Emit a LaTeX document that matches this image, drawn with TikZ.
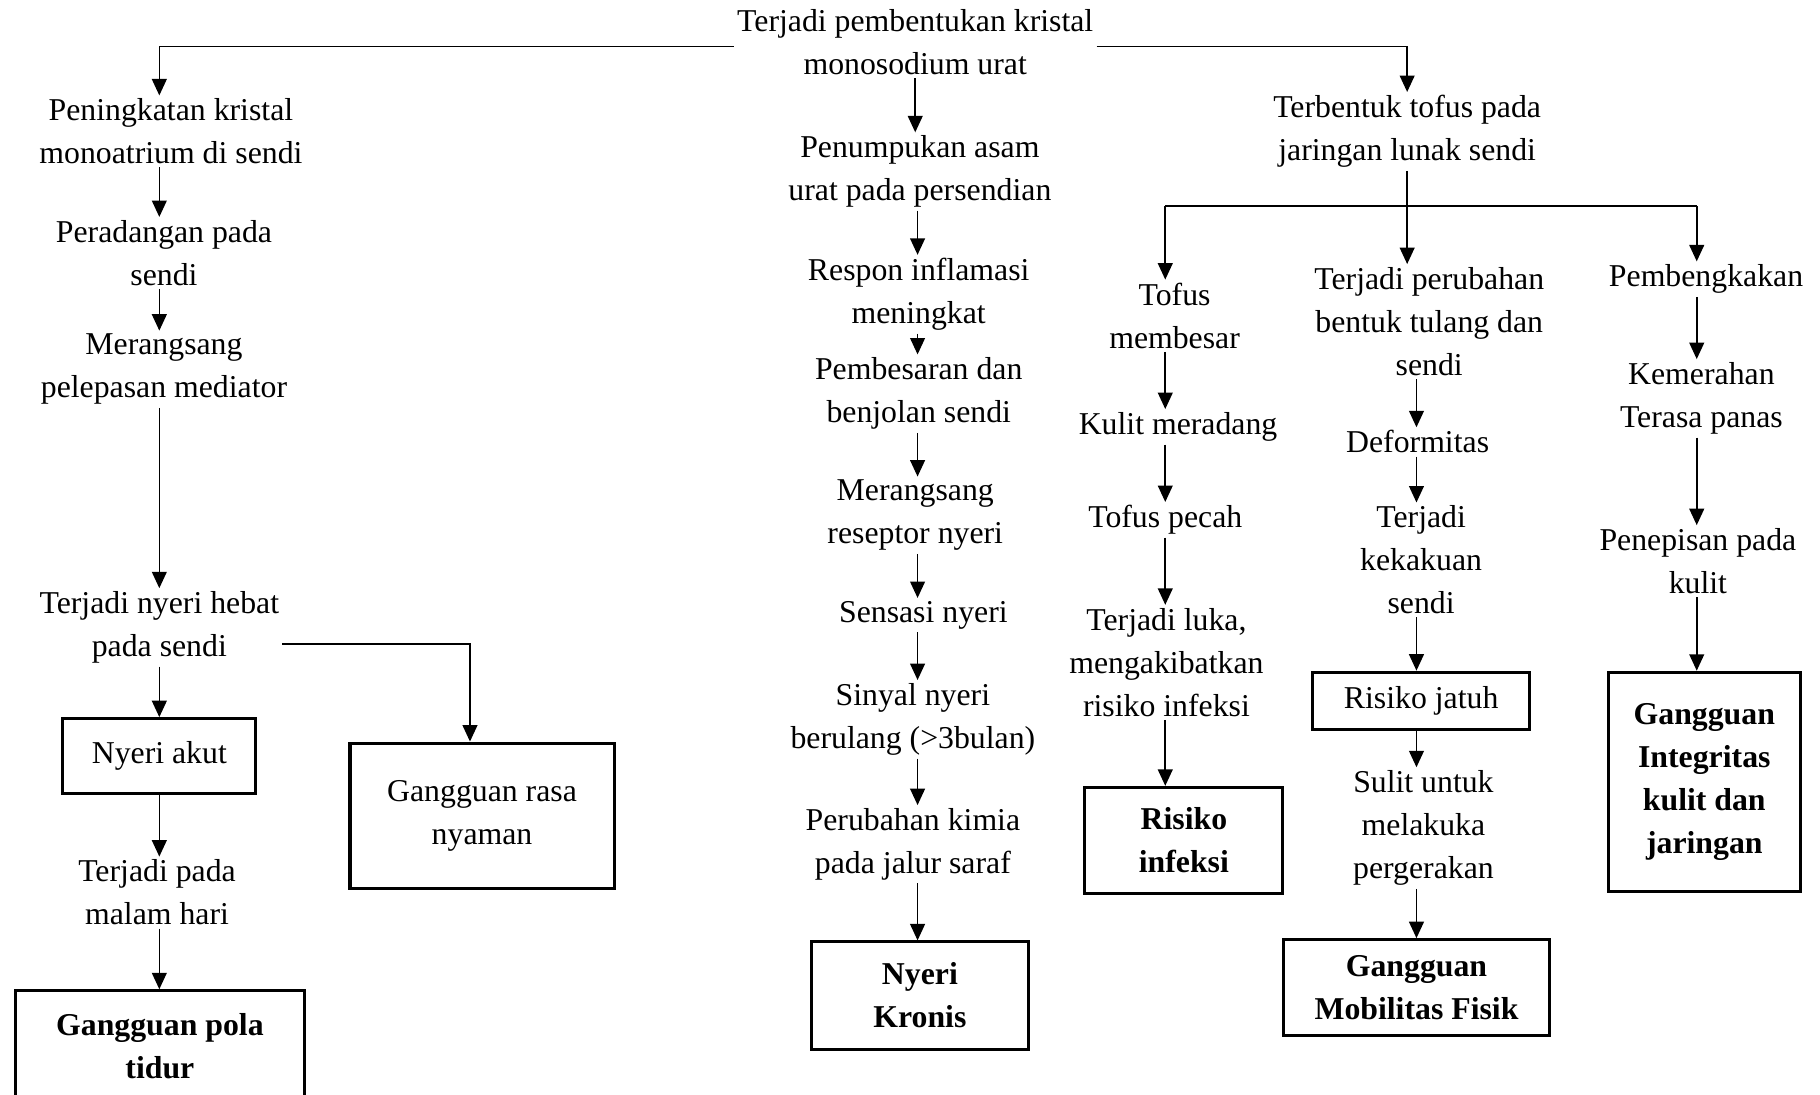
\documentclass[tikz,border=0pt]{standalone}
\usepackage{fontspec}
\setmainfont{Liberation Serif}
\usetikzlibrary{positioning,arrows.meta}

\begin{document}
\begin{tikzpicture}[x=0.4245pt, y=-0.4245pt, >={Triangle[length=6pt,width=5.4pt]},
  every node/.style={font=\fontsize{11.6}{15.7}\selectfont, align=center, inner sep=1pt},
  kotak/.style={draw, line width=1.1pt, inner sep=3pt},
  tebal/.style={kotak, font=\fontsize{11.6}{15.7}\selectfont\bfseries},
  panah/.style={->, line width=0.6pt},
  garis/.style={line width=0.6pt}]
    \useasboundingbox (0,0) rectangle (1565,941);
    % kolom panah
    \coordinate (kiri) at (137,0);
    \coordinate (tengah) at (789,0);
    \coordinate (kananA) at (1002,0);
    \coordinate (kananB) at (1218,0);
    \coordinate (kananC) at (1459,0);
    \coordinate (cabang) at (1212,177);

    \node (top) at (787,36.5) {Terjadi pembentukan kristal\\monosodium urat};

    % cabang kiri
    \node (peningkatan) at (147,113) {Peningkatan kristal\\monoatrium di sendi};
    \node (peradangan) at (141,217.5) {Peradangan pada\\sendi};
    \node (merangsang) at (141,317.5) {Merangsang\\pelepasan mediator};
    \node (hebat) at (137,539.5) {Terjadi nyeri hebat\\pada sendi};
    \node (akut) [kotak, minimum width=70.5pt, minimum height=27.2pt] at (137,650) {Nyeri akut};
    \node (malam) at (135,767.5) {Terjadi pada\\malam hari};
    \node (tidur) [tebal, minimum width=105.7pt, minimum height=40.8pt] at (137.5,900) {Gangguan pola\\tidur};
    \node (rasa) [kotak, minimum width=96.4pt, minimum height=53.1pt] at (414.5,701.5) {Gangguan rasa\\nyaman};

    % cabang tengah
    \node (penumpukan) at (791,147.5) {Penumpukan asam\\urat pada persendian};
    \node (respon) at (790,253) {Respon inflamasi\\meningkat};
    \node (pembesaran) at (790,338.5) {Pembesaran dan\\benjolan sendi};
    \node (reseptor) at (787,443) {Merangsang\\reseptor nyeri};
    \node (sensasi) at (794,529) {Sensasi nyeri};
    \node (sinyal) at (785,618.5) {Sinyal nyeri\\berulang (>3bulan)};
    \node (kimia) at (785,726) {Perubahan kimia\\pada jalur saraf};
    \node (kronis) [tebal, minimum width=79pt, minimum height=39.1pt] at (791,856) {Nyeri\\Kronis};

    % cabang kanan
    \node (terbentuk) at (1210,113) {Terbentuk tofus pada\\jaringan lunak sendi};
    \node (tofus) at (1010,271.5) {Tofus\\membesar};
    \node (meradang) at (1013,367) {Kulit meradang};
    \node (pecah) at (1002,447) {Tofus pecah};
    \node (luka) at (1003,569.5) {Terjadi luka,\\mengakibatkan\\risiko infeksi};
    \node (infeksi) [tebal, minimum width=72.2pt, minimum height=38.6pt] at (1018,722.5) {Risiko\\infeksi};
    \node (perubahan) at (1229,276.5) {Terjadi perubahan\\bentuk tulang dan\\sendi};
    \node (deformitas) at (1219,380) {Deformitas};
    \node (kekakuan) at (1222,481.5) {Terjadi\\kekakuan\\sendi};
    \node (jatuh) [kotak, minimum width=79pt, minimum height=20.8pt] at (1222,602.5) {Risiko jatuh};
    \node (sulit) at (1224,712) {Sulit untuk\\melakuka\\pergerakan};
    \node (mobilitas) [tebal, minimum width=96.8pt, minimum height=34.8pt] at (1218,849) {Gangguan\\Mobilitas Fisik};
    \node (pembengkakan) at (1467,240) {Pembengkakan};
    \node (kemerahan) at (1463,342.5) {Kemerahan\\Terasa panas};
    \node (penepisan) at (1460,482.5) {Penepisan pada\\kulit};
    \node (integritas) [tebal, minimum width=70pt, minimum height=80.2pt] at (1465.5,672.5) {Gangguan\\Integritas\\kulit dan\\jaringan};

    % panah dari atas
    \draw[panah] ([yshift=-1.5pt]top.west) -| (kiri |- peningkatan.north);
    \draw[panah] ([yshift=-1.5pt]top.east) -| (terbentuk.north);
    \draw[panah] (top) -- (top |- penumpukan.north);

    \draw[panah] (kiri |- peningkatan.south) -- (kiri |- peradangan.north);
    \draw[panah] (kiri |- peradangan.south) -- (kiri |- merangsang.north);
    \draw[panah] (kiri |- merangsang.south) -- (kiri |- hebat.north);
    \draw[panah] (kiri |- hebat.south) -- (kiri |- akut.north);
    \draw[panah] (kiri |- akut.south) -- (kiri |- malam.north);
    \draw[panah] (kiri |- malam.south) -- (kiri |- tidur.north);
    \draw[panah] ([yshift=-6pt]hebat.east) -| ([xshift=-4.4pt]rasa.north);

    \draw[panah] (tengah |- penumpukan.south) -- (tengah |- respon.north);
    \draw[panah] (tengah |- respon.south) -- (tengah |- pembesaran.north);
    \draw[panah] (tengah |- pembesaran.south) -- (tengah |- reseptor.north);
    \draw[panah] (tengah |- reseptor.south) -- (tengah |- sensasi.north);
    \draw[panah] (tengah |- sensasi.south) -- (tengah |- sinyal.north);
    \draw[panah] (tengah |- sinyal.south) -- (tengah |- kimia.north);
    \draw[panah] (tengah |- kimia.south) -- (tengah |- kronis.north);

    \draw[panah] (terbentuk) -- (terbentuk |- perubahan.north);
    \draw[garis] (cabang -| kananA) -- (cabang -| kananC);
    \draw[panah] (cabang -| kananA) -- (kananA |- tofus.north);
    \draw[panah] (cabang -| kananC) -- (kananC |- pembengkakan.north);

    \draw[panah] (kananA |- tofus.south) -- (kananA |- meradang.north);
    \draw[panah] (kananA |- meradang.south) -- (kananA |- pecah.north);
    \draw[panah] (kananA |- pecah.south) -- (kananA |- luka.north);
    \draw[panah] (kananA |- luka.south) -- (kananA |- infeksi.north);

    \draw[panah] (kananB |- perubahan.south) -- (kananB |- deformitas.north);
    \draw[panah] (kananB |- deformitas.south) -- (kananB |- kekakuan.north);
    \draw[panah] (kananB |- kekakuan.south) -- (kananB |- jatuh.north);
    \draw[panah] (kananB |- jatuh.south) -- (kananB |- sulit.north);
    \draw[panah] (kananB |- sulit.south) -- (kananB |- mobilitas.north);

    \draw[panah] (kananC |- pembengkakan.south) -- (kananC |- kemerahan.north);
    \draw[panah] (kananC |- kemerahan.south) -- (kananC |- penepisan.north);
    \draw[panah] (kananC |- penepisan.south) -- (kananC |- integritas.north);
\end{tikzpicture}
\end{document}
